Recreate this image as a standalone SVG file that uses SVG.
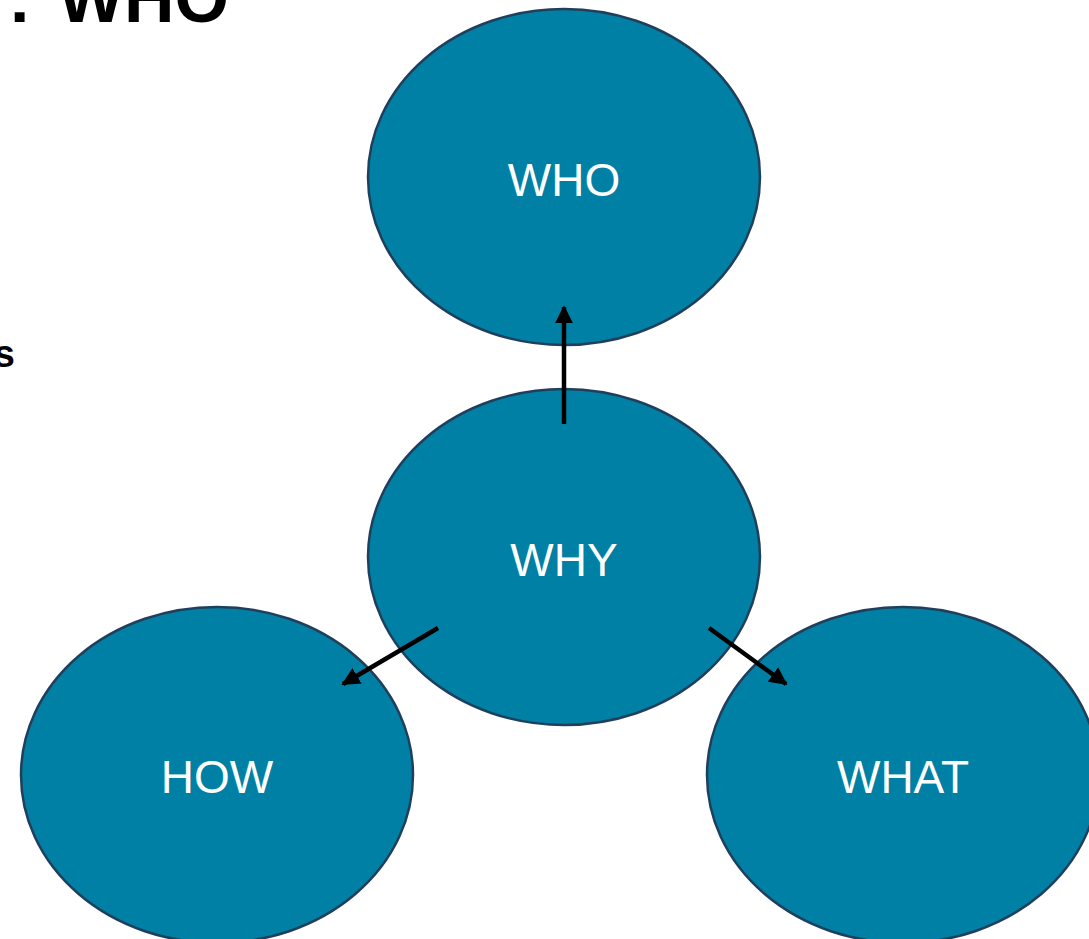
<svg xmlns="http://www.w3.org/2000/svg" width="1089" height="939" viewBox="0 0 1089 939">
<defs>
<style>
.node{fill:#0080A4;stroke:#1F3F5C;stroke-width:2.5}
.lbl{font-family:"Liberation Sans",Arial,sans-serif;font-size:46px;fill:#fff;text-anchor:middle}
.conn{stroke:#000;stroke-width:4.5;fill:none;marker-end:url(#ah)}
.bold{font-family:"Liberation Sans",Arial,sans-serif;font-weight:bold;fill:#000}
</style>
<marker id="ah" viewBox="0 0 10 10" refX="9" refY="5" markerWidth="4" markerHeight="4" orient="auto" markerUnits="strokeWidth">
<path d="M0,0 L10,5 L0,10 z" fill="#000"/>
</marker>
</defs>
<rect width="1089" height="939" fill="#fff"/>
<text class="bold" x="8" y="22" font-size="70">:</text>
<text class="bold" x="229" y="22" font-size="70" text-anchor="end">WHO</text>
<text class="bold" x="15" y="367" font-size="38" text-anchor="end">s</text>
<g id="who"><ellipse class="node" cx="564" cy="177" rx="196" ry="168"/><text class="lbl" x="564" y="196">WHO</text></g>
<g id="why"><ellipse class="node" cx="564" cy="557" rx="196" ry="168"/><text class="lbl" x="564" y="576">WHY</text></g>
<g id="how"><ellipse class="node" cx="217" cy="775" rx="196" ry="168"/><text class="lbl" x="217" y="793">HOW</text></g>
<g id="what"><ellipse class="node" cx="903" cy="775" rx="196" ry="168"/><text class="lbl" x="903" y="793">WHAT</text></g>
<g id="connectors">
<line class="conn" x1="564" y1="424" x2="564" y2="307"/>
<line class="conn" x1="438" y1="628" x2="343" y2="684"/>
<line class="conn" x1="709" y1="628" x2="786" y2="684"/>
</g>
</svg>
